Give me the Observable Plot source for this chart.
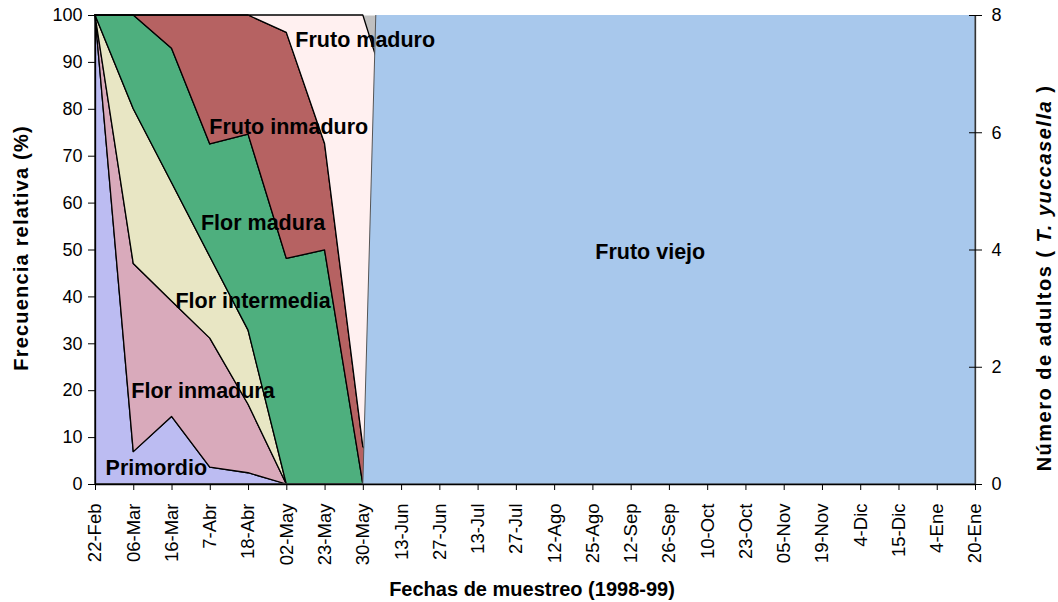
<!DOCTYPE html>
<html><head><meta charset="utf-8">
<script src="https://cdn.jsdelivr.net/npm/d3@7"></script>
<script src="https://cdn.jsdelivr.net/npm/@observablehq/plot@0.6"></script>
<style>body{margin:0;background:#fff} svg{display:block}</style>
</head><body><div id="chart"></div>
<script>
// Fechas de muestreo (categorías del eje X)
const fechas = ["22-Feb","06-Mar","16-Mar","7-Abr","18-Abr","02-May","23-May","30-May","13-Jun","27-Jun","13-Jul","27-Jul","12-Ago","25-Ago","12-Sep","26-Sep","10-Oct","23-Oct","05-Nov","19-Nov","4-Dic","15-Dic","4-Ene","20-Ene"];
// Series apiladas (frecuencia relativa, %)
const series = ["Primordio","Flor inmadura","Flor intermedia","Flor madura","Fruto inmaduro","Fruto maduro"];
const primordio      = [100, 6.9, 14.4, 3.6, 2.4, 0, 0, 0, 0];
const florInmadura   = [0, 40.1, 24.6, 27.5, 14.6, 0, 0, 0, 0];
const florIntermedia = [0, 33.0, 25.3, 17.4, 15.8, 0, 0, 0, 0];
const florMadura     = [0, 20.0, 28.6, 24.0, 41.8, 48.1, 49.9, 0, 0];
const frutoInmaduro  = [0, 0, 7.1, 27.5, 25.4, 48.2, 22.7, 8, 0];
const frutoMaduro    = [0, 0, 0, 0, 0, 3.7, 27.4, 92, 74];
// Fruto viejo (serie superpuesta, sale del rango del eje)
const frutoViejo = [0,0,0,0,0,0,0,0,295,295,295,295,295,295,295,295,295,295,295,295,295,295,295,295];
// Ticks
const pctTicks = [0,10,20,30,40,50,60,70,80,90,100];
const adultTicks = [0,2,4,6,8];
const adultMax = 8;

const colors = ["#bcbcf2","#d9aabb","#e8e6c4","#4eaf7e","#b66262","#fff0f0"];
const colorViejo = "#a8c8ec";

const layers = [primordio, florInmadura, florIntermedia, florMadura, frutoInmaduro, frutoMaduro];
const rows = [];
series.forEach((s, k) => layers[k].forEach((v, i) => rows.push({i, serie: s, v})));
const fv = frutoViejo.map((v, i) => ({i, v}));

// Posición de las etiquetas (en unidades de datos)
const etiquetas = [
  {text: "Fruto maduro", i: 7.05, y: 94.7},
  {text: "Fruto inmaduro", i: 5.05, y: 76.2},
  {text: "Flor madura", i: 4.38, y: 55.8},
  {text: "Flor intermedia", i: 4.12, y: 39.1},
  {text: "Flor inmadura", i: 2.81, y: 20.0},
  {text: "Primordio", i: 1.59, y: 3.5},
  {text: "Fruto viejo", i: 14.5, y: 49.5}
];

const FONT = "Arial, 'Liberation Sans', sans-serif";

const plot = Plot.plot({
  width: 1058, height: 602,
  marginLeft: 95, marginRight: 83, marginTop: 15, marginBottom: 118,
  style: {fontFamily: FONT, fontSize: "18px", background: "white", color: "black", overflow: "visible"},
  x: {type: "linear", domain: [0, fechas.length - 1]},
  y: {domain: [0, 100]},
  color: {domain: series, range: colors},
  marks: [
    Plot.frame({fill: "#c0c0c0", stroke: null}),
    Plot.areaY(rows, Plot.stackY({x: "i", y: "v", z: "serie", fill: "serie", stroke: "black", strokeWidth: 1.3, order: null})),
    Plot.areaY(fv, {x: "i", y: "v", fill: colorViejo, stroke: "#555", strokeWidth: 1, clip: true}),
    Plot.ruleX([0], {stroke: "black", strokeWidth: 1.3}),
    Plot.ruleX([fechas.length - 1], {stroke: "#333", strokeWidth: 1.3}),
    Plot.ruleY([0], {stroke: "black", strokeWidth: 1.3}),
    Plot.axisX({ticks: d3.range(fechas.length), tickFormat: i => fechas[i], tickRotate: -90, tickSize: 6, tickPadding: 13, label: null, fontSize: 18.5}),
    Plot.axisY({ticks: pctTicks, tickSize: 7, tickPadding: 6, label: null, fontSize: 18}),
    Plot.axisY({anchor: "right", ticks: adultTicks.map(a => a * 100 / adultMax), tickFormat: d => d * adultMax / 100, tickSize: 13, tickPadding: 10, dx: -7, label: null, fontSize: 18}),
    Plot.text(etiquetas, {x: "i", y: "y", text: "text", fontWeight: "bold", fontSize: 21.5, fill: "black"})
  ]
});

const svg = d3.select(plot);
svg.append("text").attr("transform", "translate(28,248) rotate(-90)")
  .attr("text-anchor", "middle").attr("font-weight", "bold").attr("font-size", 20)
  .attr("letter-spacing", "1.2px")
  .attr("font-family", FONT).attr("fill", "black")
  .text("Frecuencia relativa (%)");
svg.append("text").attr("x", 532).attr("y", 596)
  .attr("text-anchor", "middle").attr("font-weight", "bold").attr("font-size", 20)
  .attr("font-family", FONT).attr("fill", "black")
  .text("Fechas de muestreo (1998-99)");
const rt = svg.append("text").attr("transform", "translate(1051,278) rotate(-90)")
  .attr("text-anchor", "middle").attr("font-weight", "bold").attr("font-size", 20)
  .attr("letter-spacing", "1.5px")
  .attr("font-family", FONT).attr("fill", "black");
rt.append("tspan").text("Número de adultos ( ");
rt.append("tspan").attr("font-style", "italic").text("T. yuccasella");
rt.append("tspan").text(" )");

document.getElementById("chart").appendChild(plot);
</script>
</body></html>
